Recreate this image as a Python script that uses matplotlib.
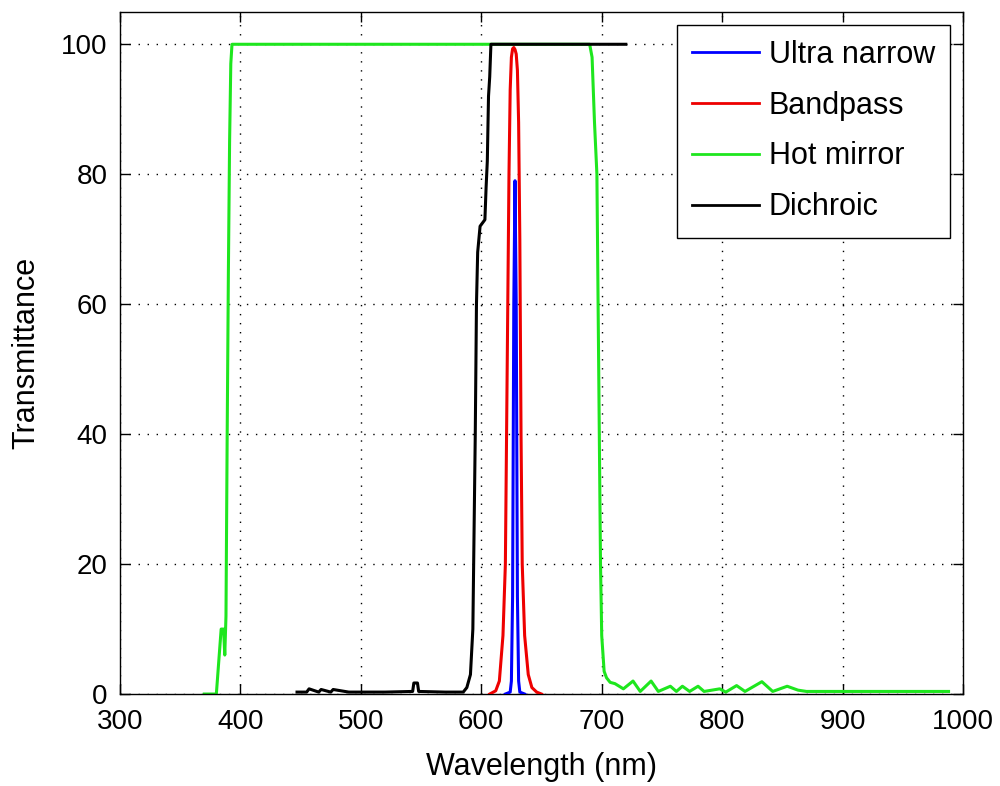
import matplotlib
matplotlib.use('Agg')
import matplotlib.pyplot as plt

plt.rcParams['font.family'] = ['Liberation Sans', 'DejaVu Sans']

# ultra narrow filter
un_wl = [620, 624, 625, 626, 627, 628, 629, 630, 631, 632, 636]
un_t = [0, 0.3, 2, 15, 60, 79, 60, 15, 2, 0.3, 0]

# bandpass filter
bp_wl = [607, 612, 615, 618, 620, 621, 622, 623, 624, 625, 626, 627, 628, 629, 630,
         631, 632, 633, 634, 636, 639, 642, 646, 650]
bp_t = [0, 0.5, 2, 9, 20, 40, 60, 80, 93, 98, 99.3, 99.5, 99.2, 98.5, 96,
        88, 70, 40, 20, 9, 3, 1, 0.3, 0]

# hot mirror
hm_wl = [370, 380, 382, 384, 386, 387, 388, 389, 390, 391, 392, 393,
         690, 692, 694, 696, 697, 698, 699, 700, 702, 704, 707, 711, 718, 726,
         732, 741, 747, 757, 762, 767, 773, 780, 785, 798, 803, 812, 819, 833,
         842, 854, 863, 870, 988]
hm_t = [0, 0, 5, 10, 10, 6, 12, 40, 65, 85, 97, 100,
        100, 98, 88, 80, 60, 40, 20, 9, 3.5, 2.5, 1.8, 1.6, 0.8, 2,
        0.4, 2, 0.4, 1.2, 0.4, 1.2, 0.4, 1.2, 0.4, 0.8, 0.3, 1.3, 0.4, 1.9,
        0.4, 1.2, 0.6, 0.4, 0.4]

# dichroic
dc_wl = [447, 455, 457, 465, 467, 475, 477, 490, 520, 543, 544, 547, 548, 570,
         585, 588, 591, 593, 595, 596, 597, 599, 603, 604, 605, 606, 607, 608, 720]
dc_t = [0.3, 0.3, 0.8, 0.3, 0.7, 0.3, 0.7, 0.3, 0.3, 0.4, 1.7, 1.7, 0.4, 0.3,
        0.3, 1, 3, 10, 40, 60, 68, 72, 73, 78, 82, 92, 95, 100, 100]

fig = plt.figure(figsize=(10, 7.86), dpi=100)
ax = fig.add_axes([0.12, 0.117, 0.843, 0.868])

l_un, = ax.plot(un_wl, un_t, color='#0000ff', lw=2.2, zorder=5, label='Ultra narrow')
l_bp, = ax.plot(bp_wl, bp_t, color='#ee0000', lw=2.2, zorder=4, label='Bandpass')
l_hm, = ax.plot(hm_wl, hm_t, color='#1ee61e', lw=2.2, zorder=2, label='Hot mirror')
l_dc, = ax.plot(dc_wl, dc_t, color='black', lw=2.2, zorder=3, label='Dichroic')

ax.set_xlim(300, 1000)
ax.set_ylim(0, 105)
ax.set_xticks(range(300, 1001, 100))
ax.set_yticks(range(0, 101, 20))
ax.grid(True, color='black', linestyle=(0, (1, 5.5)), linewidth=1)
ax.tick_params(direction='in', top=True, right=True, length=7, width=1,
               labelsize=20)
ax.tick_params(axis='x', pad=11)
ax.tick_params(axis='y', pad=9)
for s in ax.spines.values():
    s.set_linewidth(1)

ax.set_xlabel('Wavelength (nm)', fontsize=22, labelpad=12)
ax.set_ylabel('Transmittance', fontsize=22, labelpad=14)

leg = ax.legend(handles=[l_un, l_bp, l_hm, l_dc], loc='upper right', fontsize=22,
                fancybox=False, framealpha=1, edgecolor='black',
                handlelength=2.2, handletextpad=0.3, labelspacing=0.68,
                borderaxespad=0.42, borderpad=0.5)
leg.get_frame().set_linewidth(1)
for ln in leg.get_lines():
    ln.set_linewidth(2)

fig.savefig('out.png', dpi=100)
